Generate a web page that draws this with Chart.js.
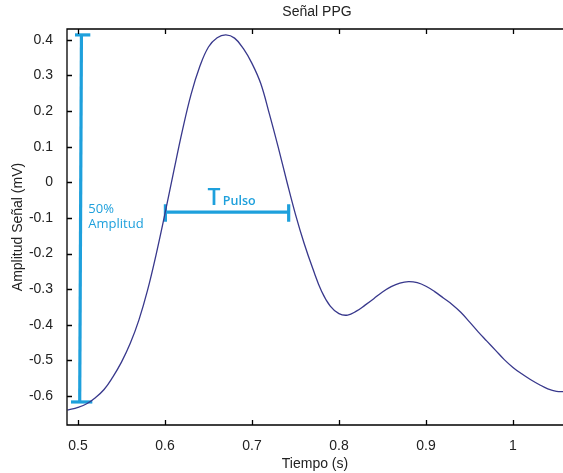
<!DOCTYPE html>
<html>
<head>
<meta charset="utf-8">
<script src="https://cdn.jsdelivr.net/npm/chart.js@4"></script>
<style>
  html, body { margin: 0; padding: 0; background: #fff; }
  canvas { display: block; }
</style>
</head>
<body>
<canvas id="chart" width="563" height="473"></canvas>
<script>
// PPG pulse (s, mV)
const tiempo = [0.488, 0.50, 0.51, 0.52, 0.53, 0.54, 0.55, 0.56, 0.57, 0.58, 0.59,
  0.60, 0.61, 0.62, 0.63, 0.64, 0.65, 0.66, 0.67, 0.68, 0.69, 0.70, 0.71, 0.72,
  0.73, 0.74, 0.75, 0.76, 0.77, 0.78, 0.79, 0.80, 0.81, 0.82, 0.83, 0.84, 0.85,
  0.86, 0.87, 0.88, 0.89, 0.90, 0.91, 0.92, 0.93, 0.94, 0.95, 0.96, 0.97, 0.98,
  0.99, 1.00, 1.01, 1.02, 1.03, 1.04, 1.05, 1.06];
const senal = [-0.640, -0.632, -0.622, -0.605, -0.582, -0.547, -0.505, -0.453, -0.387, -0.303, -0.201,
  -0.088, 0.030, 0.145, 0.247, 0.325, 0.380, 0.406, 0.414, 0.405, 0.376, 0.334, 0.278, 0.192,
  0.100, 0.003, -0.090, -0.172, -0.243, -0.306, -0.348, -0.369, -0.373, -0.362, -0.345, -0.327, -0.308,
  -0.293, -0.283, -0.279, -0.282, -0.292, -0.307, -0.325, -0.343, -0.365, -0.392, -0.420, -0.446, -0.472,
  -0.498, -0.520, -0.538, -0.554, -0.568, -0.580, -0.587, -0.588];

const xTicks = [0.5, 0.6, 0.7, 0.8, 0.9, 1];
const yTicks = [-0.6, -0.5, -0.4, -0.3, -0.2, -0.1, 0, 0.1, 0.2, 0.3, 0.4];

// annotation marks (data units)
const ampX = [0.504, 0.502];
const ampY = [0.414, -0.617];
const ampTopCapX = [0.4966, 0.5142];
const ampBotCapX = [0.492, 0.5165];
const pulsoX = [0.6005, 0.7422];
const pulsoY = -0.084;
const pulsoCapY = [-0.062, -0.111];

const azul = "#1ea0dc";
const pts = (xs, ys) => xs.map((x, i) => ({ x, y: ys[i] }));

const annotSets = [
  pts(ampX, ampY),
  pts(ampTopCapX, [ampY[0], ampY[0]]),
  pts(ampBotCapX, [ampY[1], ampY[1]]),
  pts(pulsoX, [pulsoY, pulsoY]),
  pts([pulsoX[0], pulsoX[0]], pulsoCapY),
  pts([pulsoX[1], pulsoX[1]], pulsoCapY)
].map(d => ({
  data: d, borderColor: azul, borderWidth: 3.2, pointRadius: 0, tension: 0, borderCapStyle: "butt"
}));

const fmt = v => Math.abs(v) < 1e-9 ? "0" : String(Math.round(v * 10) / 10);

const framePlugin = {
  id: "frame",
  afterDatasetsDraw(chart) {
    const { ctx, chartArea: a, scales: { x, y } } = chart;
    ctx.save();
    ctx.strokeStyle = "#000";
    ctx.lineWidth = 1.3;
    ctx.beginPath();
    ctx.moveTo(a.right, a.top); ctx.lineTo(a.left, a.top);
    ctx.lineTo(a.left, a.bottom); ctx.lineTo(a.right, a.bottom);
    x.ticks.forEach(t => {
      const px = Math.round(x.getPixelForValue(t.value)) + 0.5;
      ctx.moveTo(px, a.bottom); ctx.lineTo(px, a.bottom - 5);
      ctx.moveTo(px, a.top); ctx.lineTo(px, a.top + 5);
    });
    y.ticks.forEach(t => {
      const py = Math.round(y.getPixelForValue(t.value)) + 0.5;
      ctx.moveTo(a.left, py); ctx.lineTo(a.left + 5, py);
    });
    ctx.stroke();

    // title over the full plot box
    ctx.fillStyle = "#222";
    ctx.font = "14px 'Liberation Sans', Arial, sans-serif";
    ctx.textAlign = "center";
    ctx.textBaseline = "middle";
    ctx.fillText("Señal PPG", 317, 12);

    // annotation texts
    ctx.fillStyle = azul;
    ctx.textAlign = "left";
    ctx.textBaseline = "middle";
    ctx.font = "13px 'Open Sans', sans-serif";
    ctx.fillText("50%", x.getPixelForValue(0.5119), y.getPixelForValue(-0.075));
    ctx.fillText("Amplitud", x.getPixelForValue(0.5119), y.getPixelForValue(-0.117));
    ctx.textBaseline = "alphabetic";
    ctx.font = "600 23px 'Open Sans', sans-serif";
    ctx.fillText("T", x.getPixelForValue(0.649), y.getPixelForValue(-0.064));
    ctx.font = "600 12.5px 'Open Sans', sans-serif";
    ctx.fillText("Pulso", x.getPixelForValue(0.6665), y.getPixelForValue(-0.064));
    ctx.restore();
  }
};

new Chart(document.getElementById("chart"), {
  type: "line",
  data: {
    datasets: [{
      data: pts(tiempo, senal),
      borderColor: "#38388c",
      borderWidth: 1.3,
      pointRadius: 0,
      tension: 0.4
    }, ...annotSets]
  },
  options: {
    responsive: false,
    devicePixelRatio: 1,
    animation: false,
    layout: { padding: { top: 29, right: 0, left: 0, bottom: 0 } },
    plugins: { legend: { display: false }, tooltip: { enabled: false }, title: { display: false } },
    scales: {
      x: {
        type: "linear",
        min: 0.4874, max: 1.0575,
        afterFit: s => { s.height = 48; },
        afterBuildTicks: s => { s.ticks = xTicks.map(v => ({ value: v })); },
        grid: { display: false },
        border: { display: false },
        ticks: { callback: fmt, color: "#222", padding: 5, maxRotation: 0,
          font: { family: "'Liberation Sans', Arial, sans-serif", size: 14 } },
        title: { display: true, text: "Tiempo (s)", color: "#222", padding: { top: 6.6, bottom: 0 },
          font: { family: "'Liberation Sans', Arial, sans-serif", size: 14 } }
      },
      y: {
        type: "linear",
        min: -0.6817, max: 0.4306,
        afterFit: s => { s.width = 67; },
        afterBuildTicks: s => { s.ticks = yTicks.map(v => ({ value: v })); },
        grid: { display: false },
        border: { display: false },
        ticks: { callback: fmt, color: "#222", padding: 6,
          font: { family: "'Liberation Sans', Arial, sans-serif", size: 14 } },
        title: { display: true, text: "Amplitud Señal (mV)", color: "#222", padding: { top: 9.6, bottom: 0 },
          font: { family: "'Liberation Sans', Arial, sans-serif", size: 14 } }
      }
    }
  },
  plugins: [framePlugin]
});
</script>
</body>
</html>
